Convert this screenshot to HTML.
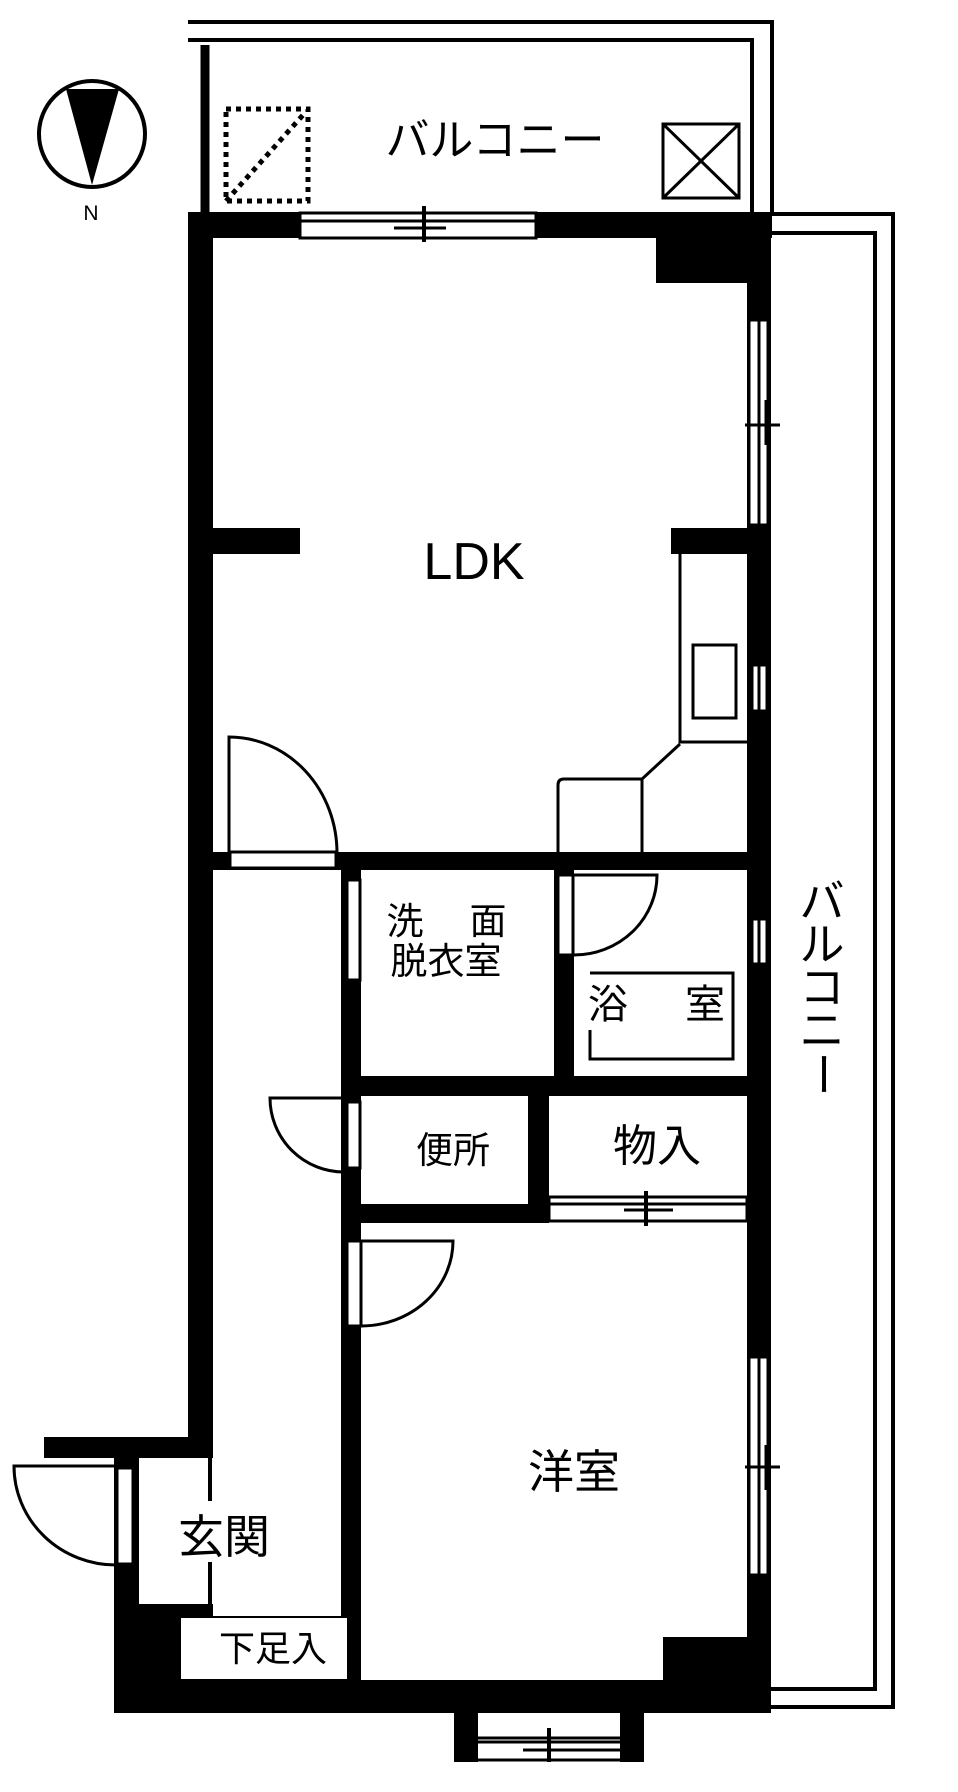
<!DOCTYPE html>
<html><head><meta charset="utf-8"><style>
html,body{margin:0;padding:0;background:#fff;}
svg{display:block}
text{font-family:"Liberation Sans","Noto Sans CJK JP",sans-serif;fill:#000}
</style></head><body>
<svg width="958" height="1792" viewBox="0 0 958 1792" xmlns="http://www.w3.org/2000/svg">
<rect width="958" height="1792" fill="#fff"/>
<g fill="none" stroke="#000" stroke-width="4">
  <polyline points="188,22 772,22 772,212"/>
  <polyline points="188,40 752,40 752,212"/>
  <line x1="205" y1="45" x2="205" y2="212" stroke-width="9"/>
  <polyline points="771,214 893,214 893,1707 771,1707"/>
  <polyline points="771,233 875,233 875,1689 771,1689"/>
</g>
<circle cx="92" cy="134" r="53" fill="none" stroke="#000" stroke-width="4"/>
<polygon points="66,89 119,89 92,185" fill="#000"/>
<text x="91" y="220" font-size="21" text-anchor="middle">N</text>
<g fill="none" stroke="#000" stroke-width="5" stroke-dasharray="5,5">
  <rect x="226" y="109" width="82" height="92"/>
  <line x1="226" y1="201" x2="303" y2="115"/>
</g>
<g fill="none" stroke="#000" stroke-width="3">
  <rect x="663" y="124" width="76" height="74"/>
  <line x1="663" y1="124" x2="739" y2="198"/>
  <line x1="739" y1="124" x2="663" y2="198"/>
</g>
<text x="495" y="155" font-size="44" text-anchor="middle">バルコニー</text>

<g fill="#000">
  <rect x="188" y="212" width="584" height="26"/>
  <rect x="656" y="238" width="115" height="45"/>
  <rect x="188" y="212" width="25" height="1246"/>
  <rect x="44" y="1437" width="169" height="21"/>
  <rect x="114" y="1437" width="25" height="276"/>
  <rect x="747" y="212" width="24" height="1501"/>
  <rect x="213" y="528" width="87" height="26"/>
  <rect x="671" y="528" width="76" height="26"/>
  <rect x="213" y="852" width="534" height="18"/>
  <rect x="341" y="852" width="20" height="768"/>
  <rect x="554" y="852" width="20" height="230"/>
  <rect x="341" y="1076" width="406" height="20"/>
  <rect x="528" y="1076" width="21" height="147"/>
  <rect x="341" y="1204" width="208" height="19"/>
  <rect x="114" y="1680" width="657" height="33"/>
  <rect x="114" y="1604" width="99" height="20"/>
  <rect x="114" y="1604" width="66" height="80"/>
  <rect x="341" y="1615" width="20" height="70"/>
  <rect x="663" y="1637" width="100" height="50"/>
  <rect x="454" y="1680" width="24" height="82"/>
  <rect x="620" y="1680" width="24" height="82"/>
</g>
<rect x="139" y="1458" width="69" height="146" fill="#fff"/>
<g stroke="#000" stroke-width="4" fill="none">
  <line x1="210" y1="1458" x2="210" y2="1501"/>
  <line x1="210" y1="1562" x2="210" y2="1606"/>
</g>
<rect x="180" y="1617" width="168" height="63" fill="#fff" stroke="#000" stroke-width="2"/>

<rect x="300" y="213" width="236" height="25" fill="#fff" stroke="#000" stroke-width="3"/>
<g stroke="#000" stroke-width="3">
  <line x1="300" y1="221" x2="536" y2="221"/>
  <line x1="394" y1="228" x2="446" y2="228"/>
  <line x1="424" y1="206" x2="424" y2="242" stroke-width="4"/>
</g>
<g fill="#fff" stroke="#000" stroke-width="3">
  <rect x="749" y="320" width="19" height="205"/>
  <rect x="749" y="1357" width="19" height="218"/>
  <rect x="752" y="665" width="15" height="46"/>
  <rect x="752" y="919" width="15" height="45"/>
</g>
<g stroke="#000" stroke-width="3">
  <line x1="759" y1="320" x2="759" y2="525"/>
  <line x1="759" y1="1357" x2="759" y2="1575"/>
  <line x1="759" y1="665" x2="759" y2="711"/>
  <line x1="759" y1="919" x2="759" y2="964"/>
  <line x1="745" y1="425" x2="780" y2="425"/>
  <line x1="766" y1="400" x2="766" y2="445"/>
  <line x1="745" y1="1467" x2="780" y2="1467"/>
  <line x1="766" y1="1445" x2="766" y2="1490"/>
</g>

<g fill="none" stroke="#000" stroke-width="3">
  <polyline points="680,554 680,742 747,742"/>
  <polyline points="680,744 642,779 642,853"/>
  <path d="M558,853 V785 Q558,779 564,779 H642"/>
  <rect x="693" y="645" width="43" height="73"/>
</g>
<rect x="230" y="852" width="106" height="16" fill="#fff" stroke="#000" stroke-width="3"/>
<path d="M229,853 V737 A108,116 0 0 1 337,853" fill="none" stroke="#000" stroke-width="3"/>
<text x="474" y="579" font-size="52" text-anchor="middle">LDK</text>

<rect x="347" y="880" width="13" height="100" fill="#fff" stroke="#000" stroke-width="3"/>
<rect x="558" y="875" width="15" height="80" fill="#fff" stroke="#000" stroke-width="3"/>
<path d="M574,875 H657 A83,80 0 0 1 574,955" fill="none" stroke="#000" stroke-width="3"/>
<polyline points="590,1030 590,1059 733,1059 733,973 590,973" fill="none" stroke="#000" stroke-width="3"/>
<text x="608" y="1018" font-size="40" text-anchor="middle">浴</text>
<text x="705" y="1018" font-size="40" text-anchor="middle">室</text>
<text x="405" y="934" font-size="37" text-anchor="middle">洗</text>
<text x="488" y="934" font-size="37" text-anchor="middle">面</text>
<text x="446" y="974" font-size="37" text-anchor="middle">脱衣室</text>

<rect x="347" y="1102" width="13" height="66" fill="#fff" stroke="#000" stroke-width="3"/>
<path d="M344,1098 H270 A74,74 0 0 0 344,1172" fill="none" stroke="#000" stroke-width="3"/>
<text x="453" y="1163" font-size="37" text-anchor="middle">便所</text>
<text x="657" y="1161" font-size="44" text-anchor="middle">物入</text>
<rect x="549" y="1197" width="198" height="24" fill="#fff" stroke="#000" stroke-width="3"/>
<g stroke="#000" stroke-width="3">
  <line x1="549" y1="1204" x2="747" y2="1204"/>
  <line x1="624" y1="1210" x2="673" y2="1210"/>
  <line x1="646" y1="1191" x2="646" y2="1226" stroke-width="4"/>
</g>

<rect x="347" y="1241" width="14" height="85" fill="#fff" stroke="#000" stroke-width="3"/>
<path d="M361,1241 H453 A92,85 0 0 1 361,1326" fill="none" stroke="#000" stroke-width="3"/>
<text x="574" y="1488" font-size="46" text-anchor="middle">洋室</text>

<rect x="117" y="1468" width="16" height="96" fill="#fff" stroke="#000" stroke-width="3"/>
<path d="M116,1466 H14 A102,99 0 0 0 116,1565" fill="none" stroke="#000" stroke-width="3"/>
<text x="224" y="1553" font-size="46" text-anchor="middle">玄関</text>
<text x="273" y="1661" font-size="36" text-anchor="middle">下足入</text>

<g stroke="#000" stroke-width="3">
  <line x1="478" y1="1738" x2="620" y2="1738"/>
  <line x1="478" y1="1742" x2="620" y2="1742"/>
  <line x1="523" y1="1750" x2="620" y2="1750"/>
  <line x1="478" y1="1760" x2="620" y2="1760"/>
  <line x1="549" y1="1728" x2="549" y2="1762" stroke-width="4"/>
</g>

<g font-size="45" text-anchor="middle">
  <text x="822" y="917">バ</text>
  <text x="822" y="960">ル</text>
  <text x="822" y="1003">コ</text>
  <text x="822" y="1046">ニ</text>
  <text x="822" y="1089" transform="rotate(90 822 1074)">ー</text>
</g>
</svg>
</body></html>
